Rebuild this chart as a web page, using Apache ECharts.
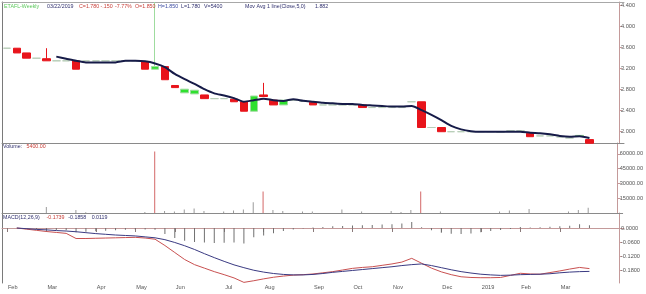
<!DOCTYPE html>
<html><head><meta charset="utf-8">
<script src="https://cdn.jsdelivr.net/npm/echarts@6/dist/echarts.min.js"></script>
<style>html,body{margin:0;padding:0;background:#fff}#c{width:646px;height:294px}</style>
</head><body><div id="c"></div>
<script>
const weeks = [
 '2018-02-02','2018-02-09','2018-02-16','2018-02-23',
 '2018-03-02','2018-03-09','2018-03-16','2018-03-23','2018-03-30',
 '2018-04-06','2018-04-13','2018-04-20','2018-04-27',
 '2018-05-04','2018-05-11','2018-05-18','2018-05-25',
 '2018-06-01','2018-06-08','2018-06-15','2018-06-22','2018-06-29',
 '2018-07-06','2018-07-13','2018-07-20','2018-07-27',
 '2018-08-03','2018-08-10','2018-08-17','2018-08-24','2018-08-31',
 '2018-09-07','2018-09-14','2018-09-21','2018-09-28',
 '2018-10-05','2018-10-12','2018-10-19','2018-10-26',
 '2018-11-02','2018-11-09','2018-11-16','2018-11-23','2018-11-30',
 '2018-12-07','2018-12-14','2018-12-21','2018-12-28',
 '2019-01-04','2019-01-11','2019-01-18','2019-01-25',
 '2019-02-01','2019-02-08','2019-02-15','2019-02-22',
 '2019-03-01','2019-03-08','2019-03-15','2019-03-22'];

const openP = [3.59,3.59,3.50,3.40,3.39,3.35,3.35,3.35,3.35,3.35,
 3.35,3.35,3.35,3.35,3.33,3.19,3.24,2.88,2.74,2.72,
 2.70,2.63,2.63,2.62,2.57,2.39,2.70,2.60,2.51,2.60,
 2.58,2.56,2.51,2.51,2.51,2.51,2.51,2.46,2.46,2.46,
 2.46,2.57,2.57,2.08,2.08,2.00,2.00,2.00,2.00,2.00,
 1.99,2.02,2.02,1.97,1.92,1.92,1.90,1.88,1.91,1.85];
const closeP = [3.59,3.50,3.40,3.40,3.35,3.35,3.35,3.19,3.35,3.35,
 3.35,3.35,3.35,3.35,3.19,3.24,2.99,2.84,2.81,2.79,
 2.63,2.63,2.63,2.57,2.39,2.68,2.67,2.51,2.60,2.60,
 2.58,2.51,2.51,2.51,2.51,2.51,2.46,2.46,2.46,2.46,
 2.46,2.57,2.08,2.08,2.00,2.00,2.00,2.00,2.00,2.00,
 1.99,2.02,2.02,1.905,1.92,1.92,1.90,1.88,1.93,1.78];
const lowP = [3.59,3.50,3.40,3.40,3.35,3.35,3.35,3.19,3.35,3.35,
 3.35,3.35,3.35,3.35,3.19,3.19,2.99,2.84,2.74,2.72,
 2.63,2.63,2.63,2.57,2.39,2.39,2.67,2.51,2.51,2.60,
 2.58,2.51,2.51,2.51,2.51,2.51,2.46,2.46,2.46,2.46,
 2.46,2.57,2.08,2.08,2.00,2.00,2.00,2.00,2.00,2.00,
 1.99,2.02,2.02,1.905,1.92,1.92,1.90,1.88,1.91,1.78];
const highP = [3.59,3.59,3.50,3.40,3.59,3.35,3.35,3.35,3.35,3.35,
 3.35,3.35,3.35,3.35,3.33,4.47,3.24,2.88,2.81,2.79,
 2.70,2.63,2.63,2.62,2.57,2.68,2.93,2.60,2.60,2.60,
 2.58,2.56,2.51,2.51,2.51,2.51,2.51,2.46,2.46,2.46,
 2.46,2.57,2.57,2.08,2.08,2.00,2.00,2.00,2.00,2.00,
 1.99,2.02,2.02,1.97,1.92,1.92,1.90,1.88,1.93,1.85];
const ma5 = [null,null,null,null,null,3.43,3.39,3.35,3.32,3.32,
 3.32,3.32,3.35,3.35,3.34,3.30,3.23,3.10,3.00,2.91,
 2.81,2.73,2.69,2.64,2.57,2.60,2.63,2.60,2.585,2.62,
 2.59,2.57,2.55,2.54,2.53,2.53,2.51,2.50,2.49,2.48,
 2.48,2.49,2.41,2.32,2.22,2.11,2.045,2.01,2.00,2.00,
 2.00,2.00,2.00,1.98,1.97,1.95,1.92,1.905,1.915,1.882];
const volume = [0,0,0,0,6000,0,0,3000,800,0,
 0,0,0,0,1000,62500,2000,1500,3500,4500,
 2000,0,1500,2500,3500,11000,21800,3000,2000,0,
 1500,1500,0,0,3500,0,1500,0,0,2000,
 1000,3000,21800,0,1500,0,0,0,0,0,
 1500,2500,0,4000,0,0,0,1500,3000,5400];
const macdLine = [null,0.000,-0.005,-0.010,-0.015,-0.019,-0.023,-0.045,-0.045,-0.044,
 -0.043,-0.042,-0.041,-0.040,-0.043,-0.048,-0.075,-0.105,-0.135,-0.157,
 -0.172,-0.187,-0.200,-0.214,-0.233,-0.226,-0.218,-0.211,-0.206,-0.202,
 -0.200,-0.197,-0.192,-0.187,-0.180,-0.173,-0.169,-0.166,-0.160,-0.154,
 -0.146,-0.130,-0.151,-0.172,-0.188,-0.200,-0.209,-0.212,-0.213,-0.213,
 -0.212,-0.203,-0.194,-0.197,-0.198,-0.191,-0.184,-0.176,-0.169,-0.174];
const signalLine = [null,0.000,-0.003,-0.006,-0.008,-0.011,-0.013,-0.016,-0.020,-0.024,
 -0.027,-0.030,-0.032,-0.034,-0.038,-0.042,-0.050,-0.062,-0.076,-0.092,
 -0.110,-0.127,-0.143,-0.158,-0.170,-0.181,-0.189,-0.195,-0.199,-0.201,
 -0.201,-0.199,-0.195,-0.190,-0.186,-0.182,-0.178,-0.174,-0.170,-0.166,
 -0.161,-0.157,-0.154,-0.161,-0.170,-0.179,-0.187,-0.193,-0.198,-0.201,
 -0.203,-0.202,-0.200,-0.199,-0.198,-0.196,-0.192,-0.189,-0.187,-0.186];
const macdHist = [null,0,-0.003,-0.005,-0.008,-0.009,-0.010,-0.018,-0.016,-0.014,
 -0.012,-0.010,-0.008,-0.006,-0.006,-0.008,-0.026,-0.043,-0.055,-0.060,
 -0.062,-0.064,-0.063,-0.062,-0.066,-0.040,-0.032,-0.022,-0.013,-0.006,
 -0.002,0.002,0.004,0.007,0.009,0.011,0.012,0.013,0.015,0.016,
 0.019,0.026,0.003,-0.010,-0.020,-0.025,-0.026,-0.024,-0.018,-0.013,
 -0.009,-0.004,0.004,0.002,0.003,0.005,0.007,0.010,0.016,0.012];
const priceTicks = [2.0,2.4,2.8,3.2,3.6,4.0,4.4];
const volumeTicks = [15000,30000,45000,60000];
const macdTicks = [0,-0.06,-0.12,-0.18];
const monthNames = ['Jan','Feb','Mar','Apr','May','Jun','Jul','Aug','Sep','Oct','Nov','Dec'];

const FONT = 'Liberation Sans, Arial, sans-serif';
const cats = weeks.concat(['', '', '']);
const candles = weeks.map((w, i) => [openP[i], closeP[i], lowP[i], highP[i]]);
const GL = 2, GR = 22;
const grids = [
  {left: GL, right: GR, top: 2, height: 141},
  {left: GL, right: GR, top: 143, height: 70},
  {left: GL, right: GR, top: 213, height: 70}
];
function hiddenX(gi, pos, color) {
  return {type: 'category', gridIndex: gi, data: cats, position: pos, boundaryGap: true,
    axisLine: {show: true, lineStyle: {color: color, width: 1}},
    axisTick: {show: false}, axisLabel: {show: false}, splitLine: {show: false}};
}
function rightY(gi, min, max, ticks, fmt) {
  return {type: 'value', gridIndex: gi, position: 'right', offset: -5, min: min, max: max, scale: true,
    axisLine: {show: true, lineStyle: {color: '#c49a9a', width: 1}},
    axisTick: {show: true, length: 3, inside: false, customValues: ticks, lineStyle: {color: '#c49a9a'}},
    axisLabel: {show: true, customValues: ticks, formatter: fmt, fontSize: 5.6, color: '#555',
      fontFamily: FONT, margin: 2},
    splitLine: {show: false}};
}
function leftY(gi) {
  return {type: 'value', gridIndex: gi, position: 'left', min: 0, max: 1,
    axisLine: {show: true, lineStyle: {color: '#7a7a7a', width: 1}},
    axisTick: {show: false}, axisLabel: {show: false}, splitLine: {show: false}};
}
function T(text, x, y, color) {
  return {text: text, left: x, top: y, padding: 0,
    textStyle: {fontSize: 5.3, lineHeight: 7, fontWeight: 'normal', color: color, fontFamily: FONT}};
}
const NAVY = '#30306e', RED = '#c8403a';
const isMonthStart = (idx, v) => !!v && +v.slice(8, 10) <= 7;

const option = {
  animation: false,
  backgroundColor: '#fff',
  title: [
    T('ETAFL-Weekly', 4, 3.5, '#5cc85c'),
    T('03/22/2019', 47, 3.5, NAVY),
    T('C=1.780', 79, 3.5, RED),
    T('-.150', 100.5, 3.5, RED),
    T('-7.77%', 115, 3.5, RED),
    T('O=1.850', 135, 3.5, RED),
    T('H=1.850', 158, 3.5, '#3a4aa0'),
    T('L=1.780', 181, 3.5, NAVY),
    T('V=5400', 204, 3.5, NAVY),
    T('Mov Avg 1 line(Close,5,0)', 245, 3.5, NAVY),
    T('1.882', 315, 3.5, NAVY),
    T('Volume:', 3, 143.3, NAVY),
    T('5400.00', 26.5, 143.3, RED),
    T('MACD(12,26,9)', 3, 214, NAVY),
    T('-0.1739', 46.5, 214, RED),
    T('-0.1858', 68.3, 214, NAVY),
    T('0.0119', 91.7, 214, NAVY)
  ],
  grid: grids,
  xAxis: [
    hiddenX(0, 'bottom', '#8a8a8a'),
    hiddenX(0, 'top', '#a8a8a8'),
    hiddenX(1, 'bottom', '#8a8a8a'),
    {type: 'category', gridIndex: 2, data: cats, position: 'bottom', boundaryGap: true,
      axisLine: {show: true, lineStyle: {color: '#c49a9a', width: 1}},
      axisTick: {show: true, alignWithLabel: true, length: 4, interval: isMonthStart,
        lineStyle: {color: '#8a7a7a'}},
      axisLabel: {show: true, interval: isMonthStart, align: 'left', margin: 1.5,
        padding: [0, 0, 0, 1], fontSize: 5.6, color: '#555', fontFamily: FONT,
        formatter: v => (+v.slice(5, 7) === 1 ? v.slice(0, 4) : monthNames[+v.slice(5, 7) - 1])},
      splitLine: {show: false}}
  ],
  yAxis: [
    rightY(0, 1.785, 4.47, priceTicks, v => v.toFixed(3)),
    rightY(1, 0, 71100, volumeTicks, v => v.toFixed(2)),
    rightY(2, -0.2357, 0.0643, macdTicks, v => v.toFixed(4)),
    leftY(0), leftY(1), leftY(2)
  ],
  series: [
    {type: 'candlestick', xAxisIndex: 0, yAxisIndex: 0, data: candles, barWidth: 8,
      itemStyle: {color: '#2ee02e', color0: '#e8141b', borderColor: '#9fdc9f',
        borderColor0: '#e8141b', borderColorDoji: '#b7cdb7', borderWidth: 1}},
    {type: 'line', xAxisIndex: 0, yAxisIndex: 0, data: ma5, symbol: 'none', smooth: 0.2,
      lineStyle: {color: '#161b48', width: 2}},
    {type: 'bar', xAxisIndex: 2, yAxisIndex: 1, data: volume, barWidth: 1,
      itemStyle: {color: p => (p.value > 15000 ? '#d46868' : '#9a9a9a')}},
    {type: 'bar', xAxisIndex: 3, yAxisIndex: 2, data: macdHist, barWidth: 1,
      itemStyle: {color: '#707070'}},
    {type: 'line', xAxisIndex: 3, yAxisIndex: 2, data: macdLine, symbol: 'none',
      lineStyle: {color: '#c85050', width: 1}},
    {type: 'line', xAxisIndex: 3, yAxisIndex: 2, data: signalLine, symbol: 'none',
      lineStyle: {color: '#3a3a82', width: 1}}
  ]
};
const chart = echarts.init(document.getElementById('c'), null, {renderer: 'canvas'});
chart.setOption(option);
</script></body></html>
